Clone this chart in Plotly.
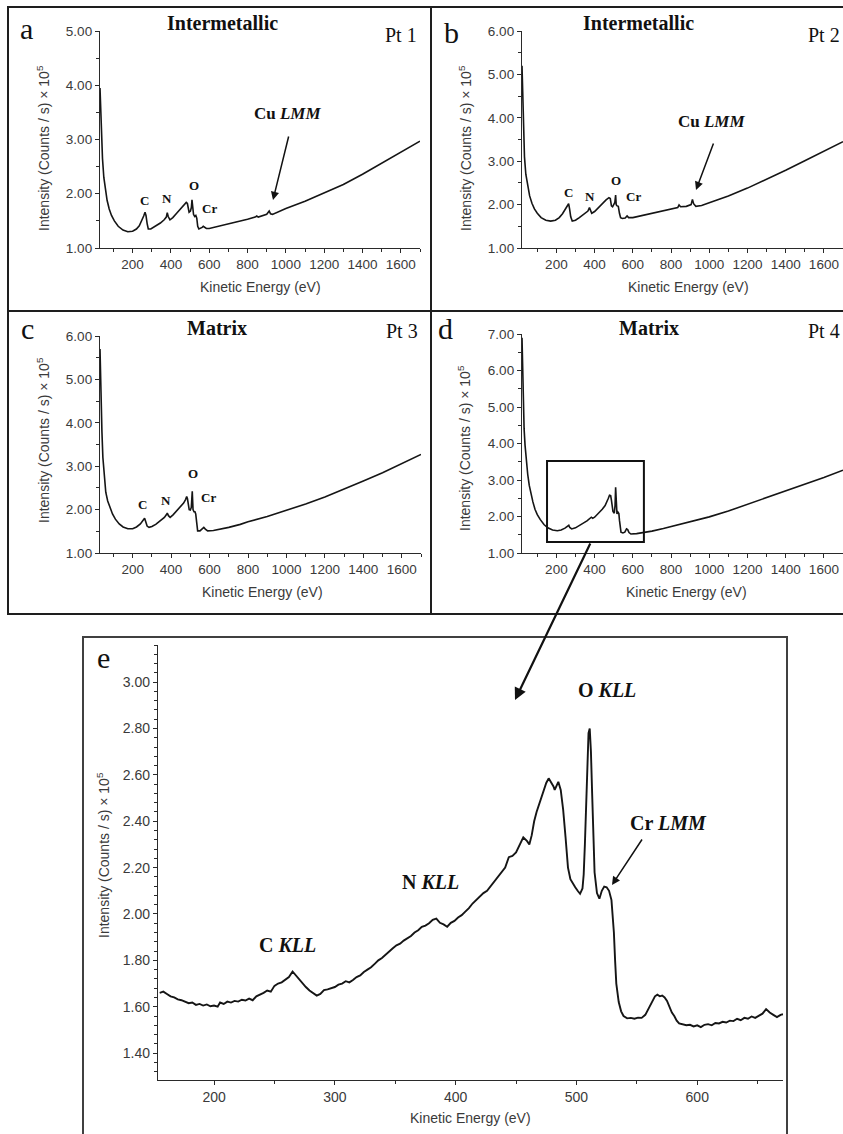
import plotly.graph_objects as go

W, H = 843, 1134

# ---------------- data ----------------
# Panel a : Intermetallic, Pt 1
A_EV = [30, 34, 38, 43, 50, 58, 67, 78, 90, 105, 125, 150, 175, 200, 220, 235, 248, 258, 265, 270,
        276, 282, 295, 320, 345, 365, 376, 381, 386, 395, 410, 430, 450, 470, 480, 486, 490, 495,
        502, 507, 510, 513, 518, 524, 530, 535, 540, 546, 555, 563, 569, 575, 585, 600, 650, 700,
        760, 800, 840, 848, 856, 900, 913, 920, 930, 1000, 1100, 1200, 1300, 1400, 1500, 1600, 1700]
A_INT = [3.95, 3.5, 3.05, 2.65, 2.3, 2.05, 1.88, 1.72, 1.6, 1.5, 1.4, 1.33, 1.30, 1.31, 1.35, 1.41,
         1.50, 1.59, 1.66, 1.60, 1.45, 1.35, 1.35, 1.40, 1.46, 1.52, 1.57, 1.65, 1.58, 1.52, 1.56,
         1.64, 1.72, 1.80, 1.84, 1.82, 1.72, 1.66, 1.68, 1.75, 1.89, 1.72, 1.62, 1.58, 1.60, 1.55,
         1.40, 1.35, 1.36, 1.38, 1.40, 1.38, 1.36, 1.36, 1.40, 1.44, 1.49, 1.53, 1.57, 1.59, 1.57,
         1.62, 1.68, 1.63, 1.62, 1.73, 1.86, 2.01, 2.17, 2.36, 2.56, 2.77, 2.97]

# Panel b : Intermetallic, Pt 2
B_EV = [20, 24, 28, 33, 40, 50, 60, 72, 85, 100, 120, 145, 170, 195, 215, 232, 247, 258, 264, 269,
        275, 283, 300, 320, 345, 365, 373, 378, 385, 400, 420, 440, 460, 475, 482, 488, 494, 500,
        506, 510, 513, 518, 524, 530, 536, 545, 560, 570, 578, 600, 650, 700, 760, 800, 835, 842,
        850, 880, 905, 912, 918, 930, 960, 1000, 1100, 1200, 1300, 1400, 1500, 1600, 1700]
B_INT = [5.2, 4.3, 3.6, 3.1, 2.7, 2.4, 2.2, 2.03, 1.9, 1.8, 1.7, 1.64, 1.62, 1.64, 1.70, 1.79, 1.90,
         1.98, 2.02, 1.90, 1.72, 1.62, 1.64, 1.70, 1.78, 1.85, 1.93, 1.88, 1.80, 1.84, 1.93, 2.03,
         2.11, 2.16, 2.14, 1.97, 1.95, 2.00, 2.05, 2.22, 2.00, 1.97, 1.96, 1.80, 1.70, 1.68, 1.69,
         1.74, 1.70, 1.70, 1.75, 1.80, 1.87, 1.90, 1.93, 1.99, 1.95, 1.96, 2.00, 2.12, 2.02, 1.96,
         1.98, 2.04, 2.20, 2.38, 2.58, 2.79, 3.01, 3.23, 3.45]

# Panel c : Matrix, Pt 3
C_EV = [30, 33, 36, 40, 45, 52, 60, 70, 82, 95, 110, 130, 150, 175, 200, 220, 240, 255, 262, 268,
        275, 285, 300, 320, 345, 365, 375, 380, 386, 395, 410, 430, 450, 465, 475, 481, 485, 489,
        494, 500, 505, 510, 514, 519, 524, 528, 533, 538, 550, 562, 570, 578, 590, 620, 660, 700,
        760, 800, 900, 1000, 1100, 1200, 1300, 1400, 1500, 1600, 1700]
C_INT = [5.7, 5.0, 4.4, 3.8, 3.2, 2.7, 2.4, 2.2, 2.05, 1.9, 1.78, 1.67, 1.6, 1.56, 1.56, 1.60, 1.67,
         1.75, 1.80, 1.72, 1.62, 1.59, 1.61, 1.66, 1.74, 1.82, 1.88, 1.92, 1.86, 1.82, 1.88, 1.97,
         2.07, 2.15, 2.23, 2.30, 2.25, 2.10, 2.00, 1.99, 2.05, 2.42, 2.00, 1.95, 1.95, 1.90, 1.60,
         1.51, 1.51, 1.55, 1.59, 1.55, 1.51, 1.52, 1.55, 1.59, 1.66, 1.72, 1.84, 1.98, 2.13, 2.29,
         2.47, 2.66, 2.85, 3.06, 3.27]

# Panel d : Matrix, Pt 4
D_EV = [20, 23, 27, 31, 36, 43, 50, 58, 67, 77, 88, 100, 115, 135, 155, 180, 205, 225, 245, 258,
        265, 270, 280, 300, 330, 360, 383, 390, 400, 420, 440, 455, 465, 472, 478, 484, 488, 492,
        496, 503, 507, 510, 513, 517, 522, 527, 530, 533, 538, 548, 558, 567, 573, 580, 590, 620,
        660, 700, 760, 800, 900, 1000, 1100, 1200, 1300, 1400, 1500, 1600, 1700]
D_INT = [6.9, 5.9, 5.0, 4.4, 3.95, 3.5, 3.15, 2.85, 2.6, 2.4, 2.2, 2.05, 1.92, 1.78, 1.69, 1.63,
         1.61, 1.63, 1.68, 1.74, 1.76, 1.70, 1.66, 1.69, 1.78, 1.88, 1.98, 1.95, 1.98, 2.08, 2.20,
         2.30, 2.40, 2.50, 2.58, 2.57, 2.45, 2.20, 2.14, 2.09, 2.30, 2.80, 2.30, 2.07, 2.12, 2.08,
         1.90, 1.70, 1.57, 1.55, 1.57, 1.66, 1.64, 1.56, 1.52, 1.53, 1.56, 1.60, 1.67, 1.72, 1.85,
         1.99, 2.15, 2.33, 2.51, 2.69, 2.88, 3.07, 3.27]

# Panel e : zoom of panel d, 155-670 eV
E_EV = [155, 158, 161, 164, 167, 170, 173, 176, 179, 182, 185, 188, 191, 194, 197, 200, 203, 205,
        208, 211, 214, 217, 220, 223, 226, 229, 232, 235, 238, 241, 244, 247, 250, 253, 256, 259,
        262, 265, 267, 270, 273, 276, 279, 282, 285, 288, 291, 294, 297, 300, 303, 306, 309, 312,
        315, 318, 321, 324, 327, 330, 333, 336, 339, 342, 345, 348, 351, 354, 357, 360, 363, 366,
        369, 372, 375, 378, 381, 384, 387, 390, 393, 396, 399, 402, 405, 408, 411, 414, 417, 420,
        423, 426, 429, 432, 435, 438, 441, 444, 447, 450, 453, 456, 459, 461, 463, 465, 467, 469,
        471, 473, 475, 477, 479, 481, 482, 484, 485, 487, 489, 491, 493, 495, 497, 499, 501, 503,
        505, 506, 507, 508, 509, 510, 511, 512, 513, 514, 515, 517, 519, 521, 523, 525, 527, 529,
        530, 531, 532, 533, 535, 537, 539, 542, 545, 548, 551, 554, 557, 559, 561, 563, 565, 567,
        569, 571, 573, 575, 577, 579, 581, 583, 585, 588, 591, 594, 597, 600, 603, 606, 609, 612,
        615, 618, 621, 624, 627, 630, 633, 636, 639, 642, 645, 648, 651, 654, 657, 660, 663, 666,
        669, 671]
E_INT = [1.66, 1.665, 1.655, 1.645, 1.64, 1.632, 1.628, 1.62, 1.615, 1.618, 1.608, 1.612, 1.605,
         1.61, 1.602, 1.605, 1.60, 1.618, 1.612, 1.622, 1.618, 1.625, 1.622, 1.63, 1.627, 1.635,
         1.628, 1.645, 1.652, 1.66, 1.67, 1.665, 1.69, 1.70, 1.705, 1.715, 1.728, 1.752, 1.74,
         1.72, 1.70, 1.685, 1.67, 1.66, 1.648, 1.655, 1.672, 1.675, 1.68, 1.685, 1.695, 1.70,
         1.71, 1.705, 1.715, 1.728, 1.735, 1.75, 1.76, 1.77, 1.785, 1.80, 1.81, 1.825, 1.838,
         1.852, 1.865, 1.872, 1.885, 1.895, 1.905, 1.92, 1.93, 1.945, 1.95, 1.96, 1.975, 1.98,
         1.962, 1.955, 1.945, 1.962, 1.97, 1.985, 1.995, 2.01, 2.025, 2.045, 2.06, 2.075, 2.09,
         2.10, 2.12, 2.135, 2.155, 2.18, 2.20, 2.245, 2.25, 2.265, 2.30, 2.33, 2.315, 2.30, 2.34,
         2.40, 2.44, 2.47, 2.50, 2.53, 2.565, 2.585, 2.57, 2.55, 2.535, 2.56, 2.57, 2.535, 2.45,
         2.33, 2.20, 2.15, 2.13, 2.115, 2.10, 2.087, 2.11, 2.17, 2.30, 2.48, 2.68, 2.78, 2.80,
         2.70, 2.52, 2.33, 2.18, 2.09, 2.066, 2.10, 2.118, 2.115, 2.10, 2.06, 2.00, 1.92, 1.80,
         1.70, 1.62, 1.58, 1.56, 1.55, 1.552, 1.548, 1.553, 1.552, 1.565, 1.585, 1.61, 1.625,
         1.645, 1.652, 1.645, 1.648, 1.64, 1.625, 1.60, 1.575, 1.56, 1.54, 1.528, 1.525, 1.52,
         1.522, 1.515, 1.52, 1.512, 1.522, 1.525, 1.52, 1.53, 1.528, 1.535, 1.532, 1.54, 1.538,
         1.548, 1.542, 1.552, 1.548, 1.558, 1.552, 1.562, 1.57, 1.59, 1.575, 1.565, 1.555, 1.565,
         1.568]

OVERVIEW_XTICKS = [200, 400, 600, 800, 1000, 1200, 1400, 1600]
ZOOM_XTICKS = [200, 300, 400, 500, 600]
X_TITLE = "Kinetic Energy (eV)"
Y_TITLE = "Intensity (Counts / s) × 10<sup>5</sup>"


def px(x):
    return x / W


def py(y):
    return 1 - y / H


SERIF = "Liberation Serif, Times New Roman, serif"
SANS = "Liberation Sans, Arial, sans-serif"
INK = "#151515"
AXC = "#2a2a2a"
TXC = "#3a3a3a"

fig = go.Figure()
series = [(A_EV, A_INT, "x", "y", 1.6), (B_EV, B_INT, "x2", "y2", 1.6),
          (C_EV, C_INT, "x3", "y3", 1.6), (D_EV, D_INT, "x4", "y4", 1.6),
          (E_EV, E_INT, "x5", "y5", 1.9)]
for xs, ys, xa, ya, lw in series:
    fig.add_trace(go.Scatter(x=xs, y=ys, mode="lines", xaxis=xa, yaxis=ya,
                             line=dict(color=INK, width=lw), showlegend=False,
                             hoverinfo="skip"))


def xaxis(dom, rng, tickvals, minor_dt, fs, anchor):
    return dict(domain=dom, range=rng, tickmode="array", tickvals=tickvals,
                ticks="outside", ticklen=4, tickwidth=1, tickcolor=AXC,
                minor=dict(dtick=minor_dt, tick0=0, ticks="outside", ticklen=3,
                           tickwidth=1, tickcolor=AXC),
                showline=True, linecolor=AXC, linewidth=1.3, showgrid=False,
                zeroline=False, tickfont=dict(family=SANS, size=fs, color=TXC),
                anchor=anchor, automargin=False, fixedrange=True)


def yaxis(dom, rng, tick0, dt, minor_dt, fs, anchor):
    return dict(domain=dom, range=rng, tick0=tick0, dtick=dt, tickformat=".2f",
                ticks="outside", ticklen=4, tickwidth=1, tickcolor=AXC,
                minor=dict(dtick=minor_dt, tick0=tick0, ticks="outside", ticklen=3,
                           tickwidth=1, tickcolor=AXC),
                showline=True, linecolor=AXC, linewidth=1.3, showgrid=False,
                zeroline=False, tickfont=dict(family=SANS, size=fs, color=TXC),
                anchor=anchor, automargin=False, fixedrange=True)


TF = 13.5
layout = dict(
    width=W, height=H, autosize=False, template="none",
    margin=dict(l=0, r=0, t=0, b=0, pad=0),
    paper_bgcolor="white", plot_bgcolor="rgba(0,0,0,0)",
    xaxis=xaxis([px(100), px(420)], [30, 1700], OVERVIEW_XTICKS, 100, TF, "y"),
    yaxis=yaxis([py(248), py(31)], [1, 5], 1, 1, 0.5, TF, "x"),
    xaxis2=xaxis([px(522), 1.0], [20, 1700], OVERVIEW_XTICKS, 100, TF, "y2"),
    yaxis2=yaxis([py(248), py(31)], [1, 6], 1, 1, 0.5, TF, "x2"),
    xaxis3=xaxis([px(100), px(421)], [30, 1700], OVERVIEW_XTICKS, 100, TF, "y3"),
    yaxis3=yaxis([py(553), py(336)], [1, 6], 1, 1, 0.5, TF, "x3"),
    xaxis4=xaxis([px(522), 1.0], [20, 1700], OVERVIEW_XTICKS, 100, TF, "y4"),
    yaxis4=yaxis([py(553), py(334)], [1, 7], 1, 1, 0.5, TF, "x4"),
    xaxis5=xaxis([px(158), px(783)], [153.6, 671], ZOOM_XTICKS, 50, 14, "y5"),
    yaxis5=yaxis([py(1080), py(645)], [1.284, 3.16], 1.4, 0.2, 0.04, 14, "x5"),
)
fig.update_layout(**layout)

# ---------------- frames ----------------
shapes = []
frame = dict(color="#1e1e1e", width=2)
shapes.append(dict(type="rect", xref="paper", yref="paper", x0=px(8), x1=px(860),
                   y0=py(614), y1=py(7), line=frame))
shapes.append(dict(type="line", xref="paper", yref="paper", x0=px(431), x1=px(431),
                   y0=py(614), y1=py(7), line=frame))
shapes.append(dict(type="line", xref="paper", yref="paper", x0=px(8), x1=px(860),
                   y0=py(311), y1=py(311), line=frame))
shapes.append(dict(type="rect", xref="paper", yref="paper", x0=px(83), x1=px(787),
                   y0=py(1150), y1=py(637), line=dict(color="#404040", width=2)))
# zoom window in panel d
shapes.append(dict(type="rect", xref="x4", yref="y4", x0=151, x1=658, y0=1.30, y1=3.52,
                   line=dict(color="#111", width=2)))
fig.update_layout(shapes=shapes)

# ---------------- texts ----------------
ann = []


def text(x, y, s, size, family=SERIF, color="#111", angle=0):
    ann.append(dict(x=px(x), y=py(y), xref="paper", yref="paper", text=s,
                    showarrow=False, xanchor="center", yanchor="middle",
                    textangle=angle, font=dict(family=family, size=size, color=color)))


def arrow(x_tip, y_tip, x_tail, y_tail, width=1.5):
    ann.append(dict(x=px(x_tip), y=py(y_tip), xref="paper", yref="paper", text="",
                    showarrow=True, axref="pixel", ayref="pixel",
                    ax=x_tail - x_tip, ay=y_tail - y_tip, arrowhead=2, arrowsize=1.1,
                    arrowwidth=width, arrowcolor="#111", standoff=0))


# panel letters
text(26, 28, "a", 30)
text(451, 32, "b", 30)
text(28, 328, "c", 30)
text(446, 328, "d", 30)
text(103, 657, "e", 30)

# titles & point labels
text(223, 23, "<b>Intermetallic</b>", 20)
text(638, 23, "<b>Intermetallic</b>", 20)
text(217, 328, "<b>Matrix</b>", 20)
text(649, 328, "<b>Matrix</b>", 20)
text(401, 35, "Pt 1", 20)
text(824, 35, "Pt 2", 20)
text(402, 331, "Pt 3", 20)
text(824, 331, "Pt 4", 20)

# axis titles
for xc, yc in [(260, 287), (688, 287), (262, 592), (686, 592), (470, 1118)]:
    text(xc, yc, X_TITLE, 14, SANS, TXC)
for xc, yc in [(43, 148), (465, 148), (43, 440), (464, 448), (103, 855)]:
    text(xc, yc, Y_TITLE, 14, SANS, TXC, -90)

# peak labels
for (xc, yc, s) in [(144, 201, "C"), (167, 198, "N"), (194, 186, "O"), (209, 208, "Cr"),
                    (568, 192, "C"), (590, 197, "N"), (616, 180, "O"), (633, 197, "Cr"),
                    (142, 505, "C"), (166, 500, "N"), (193, 474, "O"), (208, 498, "Cr")]:
    text(xc, yc, "<b>" + s + "</b>", 13)
text(287, 114, "<b>Cu <i>LMM</i></b>", 17)
text(711, 122, "<b>Cu <i>LMM</i></b>", 17)
text(287, 945, "<b>C <i>KLL</i></b>", 20)
text(430, 882, "<b>N <i>KLL</i></b>", 20)
text(607, 690, "<b>O <i>KLL</i></b>", 20)
text(668, 823, "<b>Cr <i>LMM</i></b>", 20)

# arrows
arrow(273, 200, 289, 135)
arrow(696, 190, 714, 142)
arrow(612, 885, 643, 838)
arrow(515, 700, 591, 542, 2.2)

fig.update_layout(annotations=ann)

fig.write_html("out.html", include_plotlyjs=True, config={"displayModeBar": False})
